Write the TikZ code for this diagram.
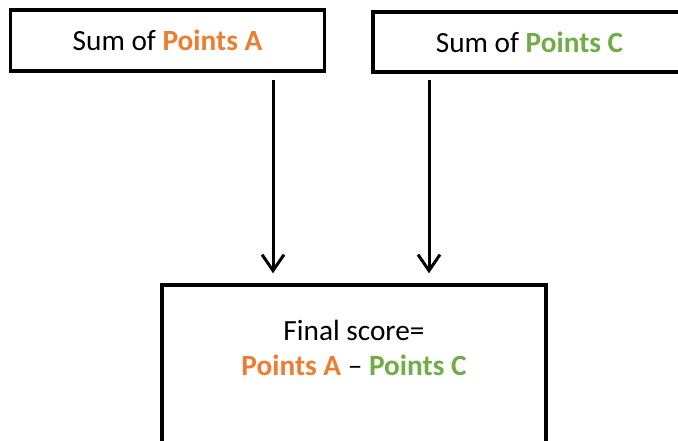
\documentclass[tikz,border=0pt]{standalone}
\usepackage{fontspec}
\setmainfont{Carlito}
\usetikzlibrary{arrows.meta}
\definecolor{ptorange}{HTML}{ED7D31}
\definecolor{ptgreen}{HTML}{70AD47}
\tikzset{
  box/.style={draw=black, line width=3.5pt, fill=white, inner sep=0pt},
  txt/.style={font=\fontsize{29.3}{35}\selectfont, inner sep=0pt},
  arr/.style={line width=3pt, -{Straight Barb[length=16pt, width=22pt, line width=3pt]}},
}
\begin{document}
\begin{tikzpicture}[x=1pt, y=-1pt]
\useasboundingbox (0,0) rectangle (678,441);
\clip (0,0) rectangle (678,441);
\node[box, minimum width=314pt, minimum height=61pt] (A) at (167.5,40.5) {};
\node[box, minimum width=313pt, minimum height=60pt] (C) at (529.5,42) {};
\node[box, minimum width=384pt, minimum height=200pt] (F) at (354,385) {};
\node[txt] (At) at (A.center) {Sum of \textbf{\color{ptorange}Points A}};
\node[txt] (Ct) at (C.center) {Sum of \textbf{\color{ptgreen}Points C}};
\node[txt, anchor=base] (F1) at (354,340) {Final score=};
\node[txt, anchor=base] (F2) at (354,375) {\textbf{\color{ptorange}Points A} – \textbf{\color{ptgreen}Points C}};
\coordinate (xa) at (273,0);
\coordinate (xc) at (429,0);
\draw[arr, shorten <=7pt, shorten >=10pt] (A.south -| xa) -- (F.north -| xa);
\draw[arr, shorten <=6pt, shorten >=10pt] (C.south -| xc) -- (F.north -| xc);
\end{tikzpicture}
\end{document}
